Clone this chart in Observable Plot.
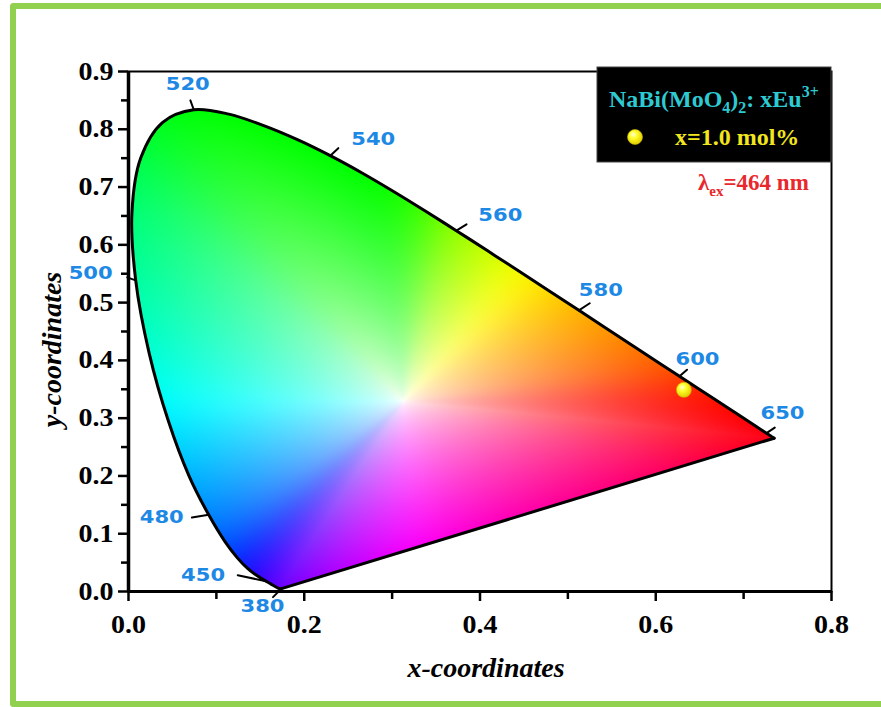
<!DOCTYPE html>
<html>
<head>
<meta charset="utf-8">
<script src="https://cdn.jsdelivr.net/npm/d3@7"></script>
<script src="https://cdn.jsdelivr.net/npm/@observablehq/plot@0.6"></script>
<style>
  html, body { margin: 0; padding: 0; background: #fff; }
  #wrap { position: relative; width: 881px; height: 707px; overflow: hidden; }
  #chart { position: absolute; left: 0; top: 0; }
  #border { position: absolute; left: 10px; top: 3px; width: 900px; height: 692px;
            border: 6px solid #92D050; border-right: none; border-radius: 4px 0 0 4px; pointer-events: none; }
  #scratch { position: absolute; width: 0; height: 0; overflow: hidden; }
</style>
</head>
<body>
<div id="wrap"><div id="chart"></div><div id="border"></div></div>
<svg id="scratch"></svg>
<script>
// CIE 1931 2° spectral locus (chromaticity x, y) every 5 nm
const wavelengths = [380,385,390,395,400,405,410,415,420,425,430,435,440,445,450,455,460,465,470,475,
  480,485,490,495,500,505,510,515,520,525,530,535,540,545,550,555,560,565,570,575,
  580,585,590,595,600,605,610,615,620,625,630,635,640,645,650,655,660,665,670,675,
  680,685,690,695,700];
const locusX = [0.1741,0.1740,0.1738,0.1736,0.1733,0.1730,0.1726,0.1721,0.1714,0.1703,0.1689,0.1669,0.1644,0.1611,0.1566,0.1510,0.1440,0.1355,0.1241,0.1096,
  0.0913,0.0687,0.0454,0.0235,0.0082,0.0039,0.0139,0.0389,0.0743,0.1142,0.1547,0.1929,0.2296,0.2658,0.3016,0.3373,0.3731,0.4087,0.4441,0.4788,
  0.5125,0.5448,0.5752,0.6029,0.6270,0.6482,0.6658,0.6801,0.6915,0.7006,0.7079,0.7140,0.7190,0.7230,0.7260,0.7283,0.7300,0.7311,0.7320,0.7327,
  0.7334,0.7340,0.7344,0.7346,0.7347];
const locusY = [0.0050,0.0050,0.0049,0.0049,0.0048,0.0048,0.0048,0.0048,0.0051,0.0058,0.0069,0.0086,0.0109,0.0138,0.0177,0.0227,0.0297,0.0399,0.0578,0.0868,
  0.1327,0.2007,0.2950,0.4127,0.5384,0.6548,0.7502,0.8120,0.8338,0.8262,0.8059,0.7816,0.7543,0.7243,0.6923,0.6589,0.6245,0.5896,0.5547,0.5202,
  0.4866,0.4544,0.4242,0.3965,0.3725,0.3514,0.3340,0.3197,0.3083,0.2993,0.2920,0.2859,0.2809,0.2770,0.2740,0.2717,0.2700,0.2689,0.2680,0.2673,
  0.2666,0.2660,0.2656,0.2654,0.2653];

// wavelengths marked on the locus
const markedWavelengths = [380, 450, 480, 500, 520, 540, 560, 580, 600, 650];

// measured colour coordinate of the sample
const sampleLabel = ["x=1.0 mol%"];
const sampleX = [0.632];
const sampleY = [0.349];

// axis ticks
const xTicks = [0, 0.2, 0.4, 0.6, 0.8];
const xMinorTicks = [0.1, 0.3, 0.5, 0.7];
const yTicks = [0, 0.1, 0.2, 0.3, 0.4, 0.5, 0.6, 0.7, 0.8, 0.9];
const yMinorTicks = [0.05, 0.15, 0.25, 0.35, 0.45, 0.55, 0.65, 0.75, 0.85];

// placement of each wavelength label (pixels) and its leader tick
const markStyle = {
  380: {dx: -19, dy: 18, angle: -135, len: 12},
  450: {dx: -63, dy: -6, angle: -78, len: 29},
  480: {dx: -47, dy: 2, angle: -99, len: 17},
  500: {dx: -45, dy: -7, angle: -70, len: 9},
  520: {dx: -6, dy: -26, angle: -20, len: 10},
  540: {dx: 43, dy: -16, angle: 47, len: 11},
  560: {dx: 44, dy: -15, angle: 58, len: 12},
  580: {dx: 22, dy: -20, angle: 57, len: 13},
  600: {dx: 18, dy: -17, angle: 49, len: 10},
  650: {dx: 16, dy: -20, angle: 56, len: 10}
};

const SERIF = "'Liberation Serif', 'Times New Roman', serif";
const LABEL_SANS = "'DejaVu Sans', Verdana, sans-serif";

const locus = wavelengths.map((w, i) => ({w, x: locusX[i], y: locusY[i]}));
const purpleLine = [locus[0], locus[locus.length - 1]];
const marked = markedWavelengths.map(w => locus.find(d => d.w === w));
const sample = sampleX.map((x, i) => ({x, y: sampleY[i], label: sampleLabel[i]}));

// outline of the filled area follows the same Catmull-Rom curve as the drawn locus
const K = 10000;
const scratchPath = d3.select("#scratch").append("path")
  .attr("d", d3.line().curve(d3.curveCatmullRom)(locus.map(d => [d.x * K, d.y * K])))
  .node();
const totalLength = scratchPath.getTotalLength();
const polygon = [];
for (let s = 0; s <= totalLength; s += 5) {
  const p = scratchPath.getPointAtLength(s);
  polygon.push([p.x / K, p.y / K]);
}
polygon.push([locus[locus.length - 1].x, locus[locus.length - 1].y]);

// ---- colouring of the chromaticity area ----
const W = [0.3127, 0.3290];
function xyToHue(x, y) {
  const X = x / y, Y = 1, Z = (1 - x - y) / y;
  let r = 3.2406 * X - 1.5372 * Y - 0.4986 * Z;
  let g = -0.9689 * X + 1.8758 * Y + 0.0415 * Z;
  let b = 0.0557 * X - 0.2040 * Y + 1.0570 * Z;
  r = Math.max(0, r); g = Math.max(0, g); b = Math.max(0, b);
  const m = Math.max(r, g, b) || 1;
  return [r / m, g / m, b / m].map(v => v <= 0.0031308 ? 12.92 * v : 1.055 * Math.pow(v, 1 / 2.4) - 0.055);
}
const NB = 1440;
const reach = new Float64Array(NB);
let hues = [];
for (let k = 0; k < NB; ++k) {
  const a = 2 * Math.PI * k / NB, dx = Math.cos(a), dy = Math.sin(a);
  let tmin = Infinity;
  for (let i = 0; i < polygon.length; ++i) {
    const p = polygon[i], q = polygon[(i + 1) % polygon.length];
    const ex = q[0] - p[0], ey = q[1] - p[1];
    const den = dx * ey - dy * ex;
    if (Math.abs(den) < 1e-12) continue;
    const wx = p[0] - W[0], wy = p[1] - W[1];
    const t = (wx * ey - wy * ex) / den;
    const u = (wx * dy - wy * dx) / den;
    if (t > 0 && u >= 0 && u <= 1) tmin = Math.min(tmin, t);
  }
  reach[k] = tmin;
  hues.push(xyToHue(W[0] + dx * tmin * 0.985, W[1] + dy * tmin * 0.985));
}
// soften the hue wheel around the white point
function blurHues(src, half) {
  const out = [];
  for (let k = 0; k < NB; ++k) {
    const acc = [0, 0, 0];
    for (let j = -half; j <= half; ++j) {
      const h = src[(k + j + NB) % NB];
      acc[0] += h[0]; acc[1] += h[1]; acc[2] += h[2];
    }
    out.push(acc.map(v => v / (2 * half + 1)));
  }
  return out;
}
hues = blurHues(blurHues(blurHues(hues, 18), 18), 18);
const GAMMA = 0.65;
function chromaColor(x, y) {
  if (!d3.polygonContains(polygon, [x, y])) return null;
  const dx = x - W[0], dy = y - W[1];
  let a = Math.atan2(dy, dx); if (a < 0) a += 2 * Math.PI;
  const k = Math.round(a / (2 * Math.PI) * NB) % NB;
  const s = Math.pow(Math.min(1, Math.hypot(dx, dy) / reach[k]), GAMMA);
  const h = hues[k];
  return `rgb(${Math.round(255 * (1 - s * (1 - h[0])))},${Math.round(255 * (1 - s * (1 - h[1])))},${Math.round(255 * (1 - s * (1 - h[2])))})`;
}

// vector shape: a plain leader tick
const leader = {draw(context, l) { context.moveTo(0, 0); context.lineTo(0, -l); }};

const wavelengthMarks = marked.flatMap(d => {
  const st = markStyle[d.w];
  return [
    Plot.vector([d], {x: "x", y: "y", rotate: st.angle, length: st.len, anchor: "start", shape: leader,
      stroke: "#000", strokeWidth: 2}),
    Plot.text([d], {x: "x", y: "y", text: d => String(d.w), dx: st.dx, dy: st.dy, className: "wl",
      fill: "#1E88E5", fontFamily: LABEL_SANS, fontWeight: "bold", fontSize: 18})
  ];
});

const chart = Plot.plot({
  width: 881, height: 707,
  marginLeft: 128, marginRight: 50, marginTop: 71, marginBottom: 116,
  style: {background: "transparent", overflow: "visible"},
  x: {domain: [0, 0.8]},
  y: {domain: [0, 0.9]},
  marks: [
    Plot.raster({x1: 0, x2: 0.8, y1: 0, y2: 0.9, pixelSize: 1, fill: chromaColor}),
    Plot.line(locus, {x: "x", y: "y", curve: "catmull-rom", stroke: "#000", strokeWidth: 3}),
    Plot.line(purpleLine, {x: "x", y: "y", stroke: "#000", strokeWidth: 3}),
    ...wavelengthMarks,
    Plot.dot(sample, {x: "x", y: "y", r: 7.5, fill: "url(#glossYellow)", stroke: "#c8b400", strokeWidth: 0.6}),
    Plot.axisX(xMinorTicks, {tickSize: 8, strokeWidth: 2.5, tickFormat: () => "", label: null}),
    Plot.axisX(xTicks, {tickSize: 10, strokeWidth: 2.5, tickPadding: 14, tickFormat: d3.format(".1f"), label: null,
      fontSize: 25, fontWeight: "bold", fontFamily: SERIF, fill: "#000", className: "tickx"}),
    Plot.axisY(yMinorTicks, {tickSize: 7, strokeWidth: 2.5, tickFormat: () => "", label: null}),
    Plot.axisY(yTicks, {tickSize: 10, strokeWidth: 2.5, tickPadding: 5, tickFormat: d3.format(".1f"), label: null,
      fontSize: 25, fontWeight: "bold", fontFamily: SERIF, fill: "#000", className: "ticky"}),
    Plot.frame({stroke: "#000", strokeWidth: 2}),
    Plot.ruleX([0], {stroke: "#000", strokeWidth: 3.5}),
    Plot.ruleY([0], {stroke: "#000", strokeWidth: 3}),
    Plot.text(["x-coordinates"], {text: d => d, frameAnchor: "bottom", textAnchor: "middle", lineAnchor: "middle",
      dx: 6, dy: 77, fontSize: 28, fontWeight: "bold", fontStyle: "italic", fontFamily: SERIF, fill: "#000"}),
    Plot.text(["y-coordinates"], {text: d => d, frameAnchor: "left", textAnchor: "middle", lineAnchor: "middle",
      dx: -76, dy: 18, rotate: -90, fontSize: 28, fontWeight: "bold", fontStyle: "italic", fontFamily: SERIF, fill: "#000"})
  ]
});
document.getElementById("chart").appendChild(chart);

const svg = d3.select(chart);
// glossy fill for the sample points
const defs = svg.insert("defs", ":first-child");
const grad = defs.append("radialGradient").attr("id", "glossYellow")
  .attr("cx", "42%").attr("cy", "38%").attr("r", "62%").attr("fx", "38%").attr("fy", "32%");
grad.append("stop").attr("offset", "0%").attr("stop-color", "#ffffe0");
grad.append("stop").attr("offset", "40%").attr("stop-color", "#ffff2a");
grad.append("stop").attr("offset", "100%").attr("stop-color", "#e2cc00");

// wide numerals
svg.selectAll(".wl text").attr("textLength", 44).attr("lengthAdjust", "spacingAndGlyphs");
svg.selectAll(".tickx text, .ticky text").filter(function() { return this.textContent.length > 0; })
  .attr("textLength", 35).attr("lengthAdjust", "spacingAndGlyphs");

// legend box
const lg = svg.append("g").attr("font-family", SERIF).attr("font-weight", "bold").attr("text-anchor", "start");
lg.append("rect").attr("x", 597).attr("y", 67).attr("width", 234).attr("height", 95)
  .attr("fill", "#000").attr("stroke", "#444").attr("stroke-width", 1);
const t1 = lg.append("text").attr("x", 609).attr("y", 107).attr("fill", "#2ECAD2").attr("font-size", 24);
t1.append("tspan").text("NaBi(MoO");
t1.append("tspan").attr("dy", 6).attr("font-size", 16).text("4");
t1.append("tspan").attr("dy", -6).text(")");
t1.append("tspan").attr("dy", 6).attr("font-size", 16).text("2");
t1.append("tspan").attr("dy", -6).text(": xEu");
t1.append("tspan").attr("dy", -10).attr("font-size", 16).text("3+");
lg.append("circle").attr("cx", 635).attr("cy", 137).attr("r", 7.5)
  .attr("fill", "url(#glossYellow)").attr("stroke", "#c8b400").attr("stroke-width", 0.6);
lg.append("text").attr("x", 675).attr("y", 145).attr("fill", "#F2E61E").attr("font-size", 24).text(sampleLabel[0]);

// excitation wavelength
const t2 = svg.append("text").attr("x", 698).attr("y", 190).attr("fill", "#E8282C").attr("text-anchor", "start")
  .attr("font-family", SERIF).attr("font-weight", "bold").attr("font-size", 23);
t2.append("tspan").text("λ");
t2.append("tspan").attr("dy", 6).attr("font-size", 15).text("ex");
t2.append("tspan").attr("dy", -6).text("=464 nm");
</script>
</body>
</html>
